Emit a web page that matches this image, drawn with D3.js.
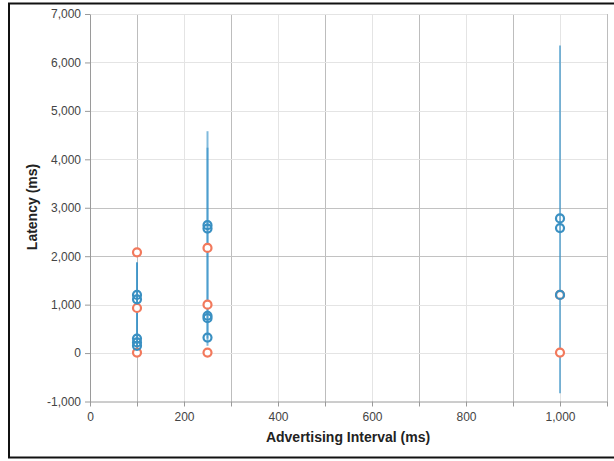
<!DOCTYPE html>
<html>
<head>
<meta charset="utf-8">
<script src="https://cdn.jsdelivr.net/npm/d3@7"></script>
<style>
  html, body { margin: 0; padding: 0; background: #fff; }
  svg { display: block; }
  .tick text { font-family: "Liberation Sans", Arial, sans-serif; font-size: 12px; fill: #444; }
  .axis-title { font-family: "Liberation Sans", Arial, sans-serif; font-size: 14px; font-weight: bold; fill: #222; }
</style>
</head>
<body>
<svg id="chart" width="614" height="461"></svg>
<script>
// Advertising intervals (ms) that were measured
const intervals = [100, 250, 1000];

// Orange series: latency samples (ms) per interval
const orangeLatency = [
  [2080, 930, 10],
  [2170, 1000, 10],
  [1200, 10]
];

// Blue series: latency samples (ms) per interval
const blueLatency = [
  [1200, 1110, 300, 220, 150],
  [2640, 2570, 770, 720, 320],
  [2780, 2580, 1200]
];

// Blue series spread (vertical bars): interval, low, high
const spreadInterval = [100, 100, 250, 250, 1000];
const spreadLow = [60, 120, 300, 150, -830];
const spreadHigh = [1880, 1860, 4580, 4240, 6350];

// Axis ticks
const xTicks = [0, 100, 200, 300, 400, 500, 600, 700, 800, 900, 1000, 1100];
const xLabelled = [0, 200, 400, 600, 800, 1000];
const yTicks = [-1000, 0, 1000, 2000, 3000, 4000, 5000, 6000, 7000];
const strongY = [2000, 3000];

const svg = d3.select("#chart");
const plotLeft = 90, plotRight = 607, plotTop = 14, plotBottom = 401.5;

const x = d3.scaleLinear().domain([0, 1100]).range([plotLeft, plotRight]);
const y = d3.scaleLinear().domain([-1000, 7000]).range([plotBottom, plotTop]);

const fmt = d3.formatLocale({ decimal: ".", thousands: ",", grouping: [3], currency: ["", ""], minus: "-" }).format(",");

// Outer frame
svg.append("rect")
  .attr("x", 9).attr("y", 3.5)
  .attr("width", 612).attr("height", 454)
  .attr("fill", "none").attr("stroke", "#111").attr("stroke-width", 2);

// Gridlines
const grid = svg.append("g");
grid.selectAll("line.v").data(xTicks.filter(d => d > 0)).join("line")
  .attr("x1", d => Math.round(x(d)) + 0.5).attr("x2", d => Math.round(x(d)) + 0.5)
  .attr("y1", plotTop).attr("y2", plotBottom)
  .attr("stroke", d => (d / 100) % 2 === 1 ? "#bdbdbd" : "#e4e4e4")
  .attr("stroke-width", 1);
grid.selectAll("line.h").data(yTicks.filter(d => d > -1000)).join("line")
  .attr("x1", plotLeft).attr("x2", plotRight)
  .attr("y1", d => Math.round(y(d)) + 0.5).attr("y2", d => Math.round(y(d)) + 0.5)
  .attr("stroke", d => strongY.includes(d) ? "#c2c2c2" : "#e4e4e4")
  .attr("stroke-width", 1);

// Axes
const xAxis = d3.axisBottom(x)
  .tickValues(xTicks)
  .tickFormat(d => xLabelled.includes(d) ? fmt(d) : "")
  .tickSize(5).tickSizeOuter(0).tickPadding(6);
const yAxis = d3.axisLeft(y)
  .tickValues(yTicks)
  .tickFormat(fmt)
  .tickSize(5).tickSizeOuter(0).tickPadding(4);

const gx = svg.append("g").attr("transform", `translate(0,${plotBottom})`).call(xAxis);
const gy = svg.append("g").attr("transform", `translate(${plotLeft},0)`).call(yAxis);
[gx, gy].forEach(g => {
  g.select(".domain").attr("stroke", "#9a9a9a");
  g.selectAll(".tick line").attr("stroke", "#9a9a9a");
});

// Axis titles
svg.append("text").attr("class", "axis-title")
  .attr("x", 348).attr("y", 442).attr("text-anchor", "middle")
  .text("Advertising Interval (ms)");
svg.append("text").attr("class", "axis-title")
  .attr("transform", "translate(37,207) rotate(-90)")
  .attr("text-anchor", "middle")
  .text("Latency (ms)");

// Spread bars of the blue series
svg.append("g").selectAll("line").data(spreadInterval).join("line")
  .attr("x1", d => x(d)).attr("x2", d => x(d))
  .attr("y1", (d, i) => y(spreadLow[i])).attr("y2", (d, i) => y(spreadHigh[i]))
  .attr("stroke", "#2b8cc4").attr("stroke-opacity", 0.6).attr("stroke-width", 2);

// Flatten point lists
const orangePts = intervals.flatMap((iv, i) => orangeLatency[i].map(v => ({ iv, v })));
const bluePts = intervals.flatMap((iv, i) => blueLatency[i].map(v => ({ iv, v })));

svg.append("g").selectAll("circle").data(orangePts).join("circle")
  .attr("cx", d => x(d.iv)).attr("cy", d => y(d.v)).attr("r", 4)
  .attr("fill", "#fff").attr("stroke", "#f2795c").attr("stroke-width", 2.2);

svg.append("g").selectAll("circle").data(bluePts).join("circle")
  .attr("cx", d => x(d.iv)).attr("cy", d => y(d.v)).attr("r", 4)
  .attr("fill", "none").attr("stroke", "#3a90c2").attr("stroke-width", 2.2);
</script>
</body>
</html>
